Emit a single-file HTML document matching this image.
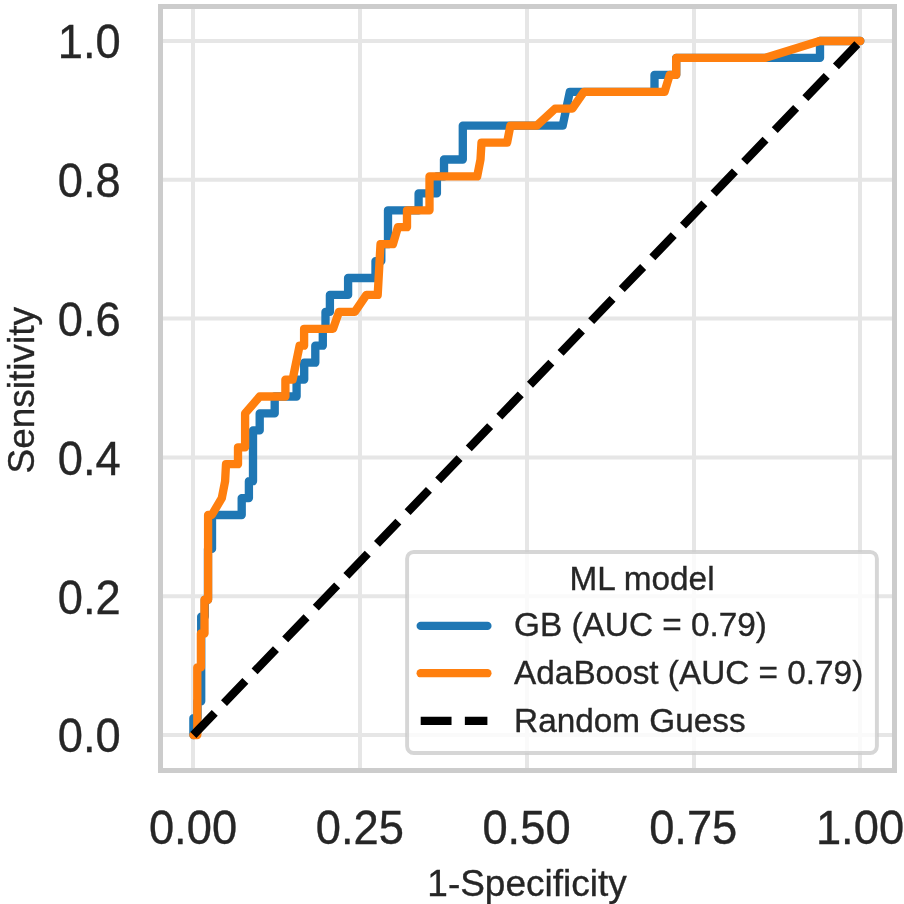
<!DOCTYPE html>
<html lang="en">
<head>
<meta charset="utf-8">
<title>ROC curves</title>
<style>
html,body{margin:0;padding:0;background:#fff;}
body{width:904px;height:904px;overflow:hidden;}
svg{display:block;}
text{font-family:"Liberation Sans",sans-serif;fill:#262626;stroke:#262626;stroke-width:0.35px;}
.tick text{font-size:45.3px;}
.lab{font-size:37px;}
.leg text{font-size:33.33px;}
</style>
</head>
<body>
<svg width="904" height="904" viewBox="0 0 904 904">
<rect x="0" y="0" width="904" height="904" fill="#ffffff"/>
<g stroke="#e6e6e6" stroke-width="4" fill="none">
<line x1="193.0" y1="6.5" x2="193.0" y2="770.5"/>
<line x1="360.0" y1="6.5" x2="360.0" y2="770.5"/>
<line x1="527.0" y1="6.5" x2="527.0" y2="770.5"/>
<line x1="694.0" y1="6.5" x2="694.0" y2="770.5"/>
<line x1="860.0" y1="6.5" x2="860.0" y2="770.5"/>
<line x1="160.5" y1="735.0" x2="894.5" y2="735.0"/>
<line x1="160.5" y1="596.2" x2="894.5" y2="596.2"/>
<line x1="160.5" y1="457.4" x2="894.5" y2="457.4"/>
<line x1="160.5" y1="318.6" x2="894.5" y2="318.6"/>
<line x1="160.5" y1="179.8" x2="894.5" y2="179.8"/>
<line x1="160.5" y1="41.0" x2="894.5" y2="41.0"/>
</g>
<g fill="none" stroke-width="8.33" stroke-linejoin="round" stroke-linecap="round">
<polyline stroke="#1f77b4" points="193.4,735.1 193.4,718.2 197.5,718.2 197.5,701.2 201.2,701.2 201.2,616.6 204.8,616.6 204.8,599.7 208,599.7 208,548.9 212,548.9 212,515.0 241.7,515.0 241.7,498.1 248.9,498.1 248.9,481.2 253,481.2 253,430.4 259.7,430.4 259.7,413.4 274.7,413.4 274.7,396.5 296.6,396.5 296.6,379.6 304.2,379.6 304.2,362.7 315.3,362.7 315.3,345.7 322.8,345.7 322.8,328.8 325.5,328.8 325.5,311.9 329.9,311.9 329.9,294.9 348.1,294.9 348.1,278.0 375.5,278.0 375.5,261.1 381.3,261.1 381.3,244.2 388,244.2 388,210.3 418.6,210.3 418.6,193.4 436.9,193.4 436.9,176.4 444,176.4 444,159.5 462.8,159.5 462.8,125.6 562.7,125.6 569.8,91.8 654.5,91.8 654.5,74.9 676.2,74.9 676.2,57.9 820,57.9 820,41.0 860.3,41.0"/>
<polyline stroke="#ff7f0e" points="193.4,735.1 197.3,735.1 197.3,667.4 200.9,667.4 200.9,633.5 204.5,633.5 204.5,599.7 208.1,599.7 208.1,515.0 211.8,515.0 221.8,498.1 225.1,481.2 226,464.2 238,464.2 238,447.3 245.1,447.3 245.1,413.4 259.7,396.5 285.4,396.5 285.4,379.6 292.6,379.6 299.6,345.7 304.1,345.7 304.1,328.8 333,328.8 339,311.9 354.8,311.9 366.4,294.9 377.7,294.9 380.5,244.2 392.9,244.2 397.9,227.2 407,227.2 407,210.3 429.5,210.3 429.5,176.4 477.2,176.4 480.5,159.5 481.5,142.6 507.1,142.6 510.4,125.6 536.8,125.6 555,108.7 572.3,108.7 583.9,91.8 664.6,91.8 669.7,74.9 676.2,74.9 676.2,57.9 764.7,57.9 819.7,41.0 860.3,41.0"/>
</g>
<line x1="193.4" y1="735.0" x2="860.3" y2="41.0" stroke="#000" stroke-width="8.33" stroke-dasharray="30.83 13.33" fill="none"/>
<rect x="160.5" y="6.5" width="734.0" height="764.0" fill="none" stroke="#cccccc" stroke-width="5"/>
<g class="tick">
<text transform="translate(193.0 844.0) scale(1 1.08)" text-anchor="middle">0.00</text>
<text transform="translate(359.8 844.0) scale(1 1.08)" text-anchor="middle">0.25</text>
<text transform="translate(526.5 844.0) scale(1 1.08)" text-anchor="middle">0.50</text>
<text transform="translate(693.2 844.0) scale(1 1.08)" text-anchor="middle">0.75</text>
<text transform="translate(860.0 844.0) scale(1 1.08)" text-anchor="middle">1.00</text>
<text transform="translate(120.8 752.3) scale(1 1.08)" text-anchor="end">0.0</text>
<text transform="translate(120.8 613.5) scale(1 1.08)" text-anchor="end">0.2</text>
<text transform="translate(120.8 474.7) scale(1 1.08)" text-anchor="end">0.4</text>
<text transform="translate(120.8 335.9) scale(1 1.08)" text-anchor="end">0.6</text>
<text transform="translate(120.8 197.1) scale(1 1.08)" text-anchor="end">0.8</text>
<text transform="translate(120.8 58.3) scale(1 1.08)" text-anchor="end">1.0</text>
</g>
<text class="lab" transform="translate(527.0 895.6) scale(1 1.02)" text-anchor="middle">1-Specificity</text>
<text class="lab" transform="translate(33.8 390.2) rotate(-90) scale(1 1.02)" text-anchor="middle">Sensitivity</text>
<g class="leg">
<rect x="407.1" y="552.0" width="469.8" height="201.0" rx="6.7" ry="6.7" fill="#ffffff" fill-opacity="0.8" stroke="#cccccc" stroke-opacity="0.8" stroke-width="3.9"/>
<text transform="translate(642 590.0) scale(1 1.02)" text-anchor="middle">ML model</text>
<line x1="420.7" y1="625.9" x2="487.4" y2="625.9" stroke="#1f77b4" stroke-width="8.33" stroke-linecap="round"/>
<line x1="420.7" y1="673.2" x2="487.4" y2="673.2" stroke="#ff7f0e" stroke-width="8.33" stroke-linecap="round"/>
<line x1="420.7" y1="720.8" x2="487.4" y2="720.8" stroke="#000" stroke-width="8.33" stroke-dasharray="30.83 13.33"/>
<text transform="translate(514.1 636.3) scale(1 1.02)">GB (AUC = 0.79)</text>
<text transform="translate(514.1 684.3) scale(1 1.02)">AdaBoost (AUC = 0.79)</text>
<text transform="translate(514.1 732.4) scale(1 1.02)">Random Guess</text>
</g>
</svg>
</body>
</html>
